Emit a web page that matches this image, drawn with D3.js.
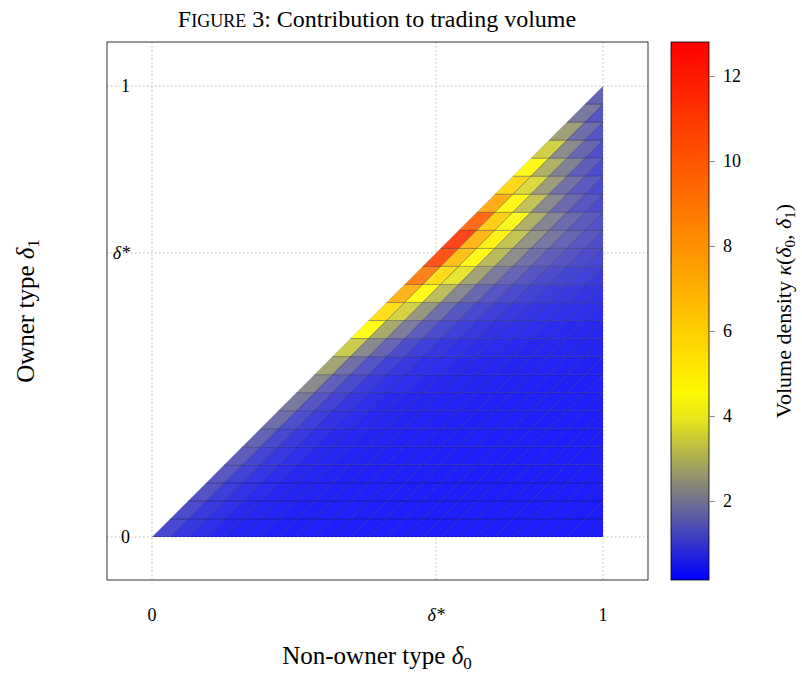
<!DOCTYPE html>
<html><head><meta charset="utf-8">
<script src="https://cdn.jsdelivr.net/npm/d3@7"></script>
<style>body{margin:0;background:#fff}</style>
</head><body>
<svg id="chart" width="802" height="673"></svg>
<script>
// diagonal (first-cell) density per row, bottom to top
const nRows = 25;
const diagValues = [1.0, 1.1, 1.2, 1.3, 1.4, 1.5, 1.7, 1.9, 2.2, 2.7, 3.4, 4.4, 5.6, 7.2, 9.0, 10.6, 11.2, 9.8, 7.4, 5.8, 4.6, 3.5, 2.6, 1.9, 1.5];
// relative decay moving away from the diagonal (column index)
const decay = [1, 0.62, 0.42, 0.28, 0.2, 0.15, 0.12, 0.1, 0.085, 0.075, 0.065, 0.058, 0.052, 0.047, 0.042, 0.038, 0.034, 0.03, 0.027, 0.024, 0.021, 0.018, 0.015, 0.012, 0.01];
const floorValue = 0.2;
const deltaStar = 0.63;
const colorTicks = [2, 4, 6, 8, 10, 12];
const cMin = 0.14, cMax = 12.8;

const svg = d3.select("#chart");
const serif = "'Liberation Serif', 'DejaVu Serif', serif";
const box = {x0: 107, x1: 648, y0: 42, y1: 580};

const x = d3.scaleLinear().domain([0, 1]).range([152, 603]);
const y = d3.scaleLinear().domain([0, 1]).range([537, 86]);

const color = d3.scaleLinear()
  .domain([0, 1/6, 1/3, 2/3, 1].map(t => cMin + t * (cMax - cMin)))
  .range(["#0000ff", "#808080", "#ffff00", "#ff8000", "#ff0000"])
  .clamp(true);

// grid
const grid = svg.append("g").attr("stroke", "#bbb").attr("stroke-dasharray", "1.5 2.5").attr("stroke-width", 1);
[0, deltaStar, 1].forEach(v => {
  grid.append("line").attr("x1", x(v)).attr("x2", x(v)).attr("y1", box.y0).attr("y2", box.y1);
  grid.append("line").attr("x1", box.x0).attr("x2", box.x1).attr("y1", y(v)).attr("y2", y(v));
});

svg.append("defs").append("clipPath").attr("id", "tri")
  .append("path").attr("d", `M${x(0)},${y(0)}L${x(1)},${y(0)}L${x(1)},${y(1)}Z`);

const cells = [];
for (let j = 0; j < nRows; j++) {
  for (let k = 0; k < nRows - j; k++) {
    cells.push({j, k, v: floorValue + (diagValues[j] - floorValue) * decay[k]});
  }
}
const h = 1 / nRows;
svg.append("g").attr("clip-path", "url(#tri)")
  .selectAll("path").data(cells).join("path")
  .attr("d", d => {
    const b = d.j * h, t = b + h, u0 = d.k * h, u1 = u0 + h;
    return `M${x(b + u0)},${y(b)}L${x(b + u1)},${y(b)}L${x(t + u1)},${y(t)}L${x(t + u0)},${y(t)}Z`;
  })
  .attr("fill", d => color(d.v))
  .attr("fill-opacity", 0.9)
  .attr("stroke", "#1a1a40")
  .attr("stroke-opacity", 0.4)
  .attr("stroke-width", 0.7);

svg.append("rect").attr("x", box.x0).attr("y", box.y0).attr("width", box.x1 - box.x0).attr("height", box.y1 - box.y0)
  .attr("fill", "none").attr("stroke", "#000").attr("stroke-width", 0.8);

// tick labels
const tickLab = [{v: 0, t: "0"}, {v: deltaStar, t: "δ*"}, {v: 1, t: "1"}];
tickLab.forEach(d => {
  const isStar = d.v === deltaStar;
  svg.append("text").attr("x", x(d.v)).attr("y", 621).attr("text-anchor", "middle")
    .attr("font-family", serif).attr("font-size", 18)
    .attr("font-style", isStar ? "italic" : null).text(d.t);
  svg.append("text").attr("x", 130).attr("y", y(d.v) + 6).attr("text-anchor", "end")
    .attr("font-family", serif).attr("font-size", 18)
    .attr("font-style", isStar ? "italic" : null).text(d.t);
});

// axis titles
svg.append("text").attr("x", 377).attr("y", 664).attr("text-anchor", "middle")
  .attr("font-family", serif).attr("font-size", 25)
  .html('Non-owner type <tspan font-style="italic">δ</tspan><tspan font-size="17" dy="5">0</tspan>');
svg.append("text").attr("transform", "translate(34,311) rotate(-90)").attr("text-anchor", "middle")
  .attr("font-family", serif).attr("font-size", 25)
  .html('Owner type <tspan font-style="italic">δ</tspan><tspan font-size="17" dy="5">1</tspan>');

// title
svg.append("text").attr("x", 377).attr("y", 27).attr("text-anchor", "middle")
  .attr("font-family", serif).attr("font-size", 24)
  .html('F<tspan font-size="18">IGURE</tspan> 3: Contribution to trading volume');

// colorbar
const cb = {x: 671, w: 38};
const cy = d3.scaleLinear().domain([cMin, cMax]).range([box.y1, box.y0]);
const grad = svg.select("defs").append("linearGradient").attr("id", "cbg")
  .attr("x1", 0).attr("x2", 0).attr("y1", 1).attr("y2", 0);
d3.range(0, 1.0001, 0.05).forEach(t => {
  grad.append("stop").attr("offset", t).attr("stop-color", color(cMin + t * (cMax - cMin)));
});
svg.append("rect").attr("x", cb.x).attr("y", box.y0).attr("width", cb.w).attr("height", box.y1 - box.y0)
  .attr("fill", "url(#cbg)").attr("stroke", "#000").attr("stroke-width", 0.8);
const cAxis = svg.append("g").attr("transform", `translate(${cb.x + cb.w},0)`)
  .call(d3.axisRight(cy).tickValues(colorTicks).tickSize(6).tickPadding(8));
cAxis.select(".domain").remove();
cAxis.selectAll("line").attr("stroke", "#888");
cAxis.selectAll("text").attr("font-family", serif).attr("font-size", 18).attr("fill", "#000");

svg.append("text").attr("transform", "translate(791,311) rotate(-90)").attr("text-anchor", "middle")
  .attr("font-family", serif).attr("font-size", 22)
  .html('Volume density <tspan font-style="italic">κ</tspan>(<tspan font-style="italic">δ</tspan><tspan font-size="15" dy="4">0</tspan><tspan dy="-4">, </tspan><tspan font-style="italic">δ</tspan><tspan font-size="15" dy="4">1</tspan><tspan dy="-4">)</tspan>');
</script>
</body></html>
